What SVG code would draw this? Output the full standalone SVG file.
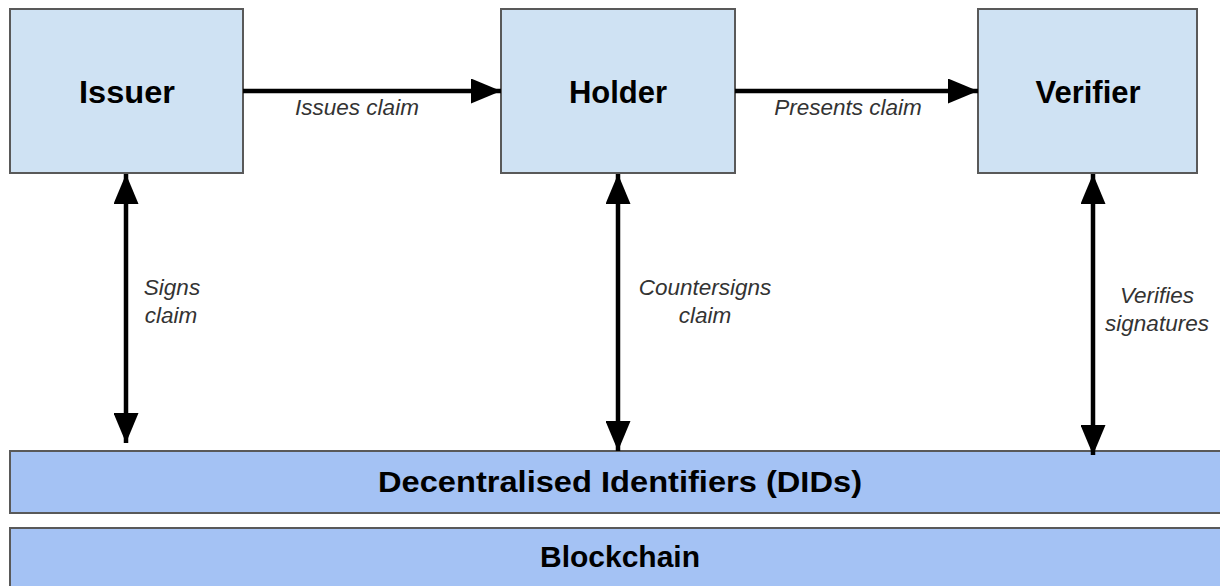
<svg xmlns="http://www.w3.org/2000/svg" width="1220" height="586" viewBox="0 0 1220 586">
<style>
.box{fill:#cfe2f3;stroke:#595959;stroke-width:2}
.bar{fill:#a4c2f4;stroke:#595959;stroke-width:2}
.title{font-family:"Liberation Sans",Arial,sans-serif;font-weight:bold;font-size:31px;fill:#000;text-anchor:middle}
.bartxt{font-family:"Liberation Sans",Arial,sans-serif;font-weight:bold;font-size:30px;fill:#000;text-anchor:middle}
.lbl{font-family:"Liberation Sans",Arial,sans-serif;font-style:italic;font-size:22.5px;fill:#333;text-anchor:middle}
.line{stroke:#000;stroke-width:4.5;fill:none}
</style>
<defs>
<marker id="ah" viewBox="0 0 30 25" refX="30" refY="12.5" markerWidth="30" markerHeight="25" orient="auto-start-reverse" markerUnits="userSpaceOnUse">
<path d="M0,0 L30,12.5 L0,25 Z" fill="#000"/>
</marker>
</defs>
<rect width="1220" height="586" fill="#fff"/>
<g id="issuer"><rect class="box" x="10" y="9" width="233" height="164"/><text class="title" x="127" y="103" textLength="96" lengthAdjust="spacingAndGlyphs">Issuer</text></g>
<g id="holder"><rect class="box" x="501" y="9" width="234" height="164"/><text class="title" x="618" y="103">Holder</text></g>
<g id="verifier"><rect class="box" x="978" y="9" width="219" height="164"/><text class="title" x="1088" y="103">Verifier</text></g>
<g id="dids"><rect class="bar" x="10" y="451" width="1215" height="62"/><text class="bartxt" x="620" y="492" textLength="484" lengthAdjust="spacingAndGlyphs">Decentralised Identifiers (DIDs)</text></g>
<g id="blockchain"><rect class="bar" x="10" y="528" width="1215" height="64"/><text class="bartxt" x="620" y="567">Blockchain</text></g>
<g id="connectors">
<line class="line" x1="243" y1="91" x2="501" y2="91" marker-end="url(#ah)"/>
<line class="line" x1="735" y1="91" x2="978" y2="91" marker-end="url(#ah)"/>
<line class="line" x1="126" y1="174" x2="126" y2="443" marker-start="url(#ah)" marker-end="url(#ah)"/>
<line class="line" x1="618" y1="174" x2="618" y2="451" marker-start="url(#ah)" marker-end="url(#ah)"/>
<line class="line" x1="1093" y1="174" x2="1093" y2="455" marker-start="url(#ah)" marker-end="url(#ah)"/>
<text class="lbl" x="357" y="115">Issues claim</text>
<text class="lbl" x="848" y="115">Presents claim</text>
<text class="lbl" x="172" y="295">Signs</text>
<text class="lbl" x="171" y="323">claim</text>
<text class="lbl" x="705" y="295">Countersigns</text>
<text class="lbl" x="705" y="323">claim</text>
<text class="lbl" x="1157" y="303">Verifies</text>
<text class="lbl" x="1157" y="331">signatures</text>
</g>
</svg>
